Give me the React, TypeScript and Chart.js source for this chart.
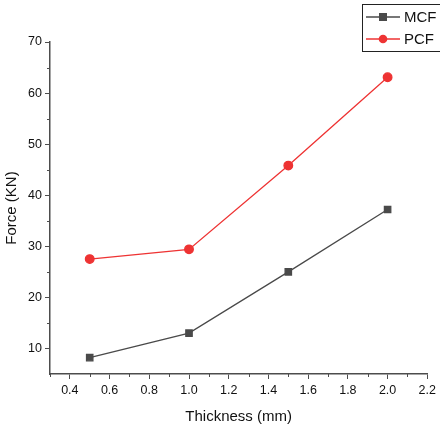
import React, { useEffect, useRef } from "react";
import { Chart, registerables } from "chart.js";

Chart.register(...registerables);

// Thickness (mm) against force (KN)
const thickness = [0.5, 1.0, 1.5, 2.0];
const mcfForce = [8.2, 13.0, 25.0, 37.2];
const pcfForce = [27.5, 29.4, 45.8, 63.1];
const xTickValues = [0.4, 0.6, 0.8, 1.0, 1.2, 1.4, 1.6, 1.8, 2.0, 2.2];
const yTickValues = [10, 20, 30, 40, 50, 60, 70];
const xMinorValues = [0.3, 0.5, 0.7, 0.9, 1.1, 1.3, 1.5, 1.7, 1.9, 2.1];
const yMinorValues = [15, 25, 35, 45, 55, 65];

const FONT = "'Liberation Sans', Arial, sans-serif";
const AXIS = "#4d4d4d";
const MCF_COLOR = "#4a4a4a";
const PCF_COLOR = "#ee3333";

const minorTicks = {
  id: "minorTicks",
  afterDraw(chart: any) {
    const ctx = chart.ctx;
    const x = chart.scales.x;
    const y = chart.scales.y;
    ctx.save();
    ctx.strokeStyle = AXIS;
    ctx.lineWidth = 1;
    xMinorValues.forEach((v) => {
      const px = Math.round(x.getPixelForValue(v)) + 0.5;
      ctx.beginPath();
      ctx.moveTo(px, y.bottom);
      ctx.lineTo(px, y.bottom + 3);
      ctx.stroke();
    });
    yMinorValues.forEach((v) => {
      const py = Math.round(y.getPixelForValue(v)) + 0.5;
      ctx.beginPath();
      ctx.moveTo(x.left, py);
      ctx.lineTo(x.left - 3, py);
      ctx.stroke();
    });
    ctx.restore();
  },
};

const boxedLegend = {
  id: "boxedLegend",
  afterDraw(chart: any) {
    const ctx = chart.ctx;
    const left = 362.5;
    const top = 4.5;
    const right = 445;
    const bottom = 51.5;
    ctx.save();
    ctx.fillStyle = "#ffffff";
    ctx.fillRect(left, top, right - left, bottom - top);
    ctx.strokeStyle = "#222222";
    ctx.lineWidth = 1;
    ctx.strokeRect(left, top, right - left, bottom - top);
    const rows = chart.data.datasets;
    rows.forEach((ds: any, i: number) => {
      const cy = 17 + i * 22;
      ctx.strokeStyle = ds.borderColor;
      ctx.lineWidth = 1.3;
      ctx.beginPath();
      ctx.moveTo(366, cy);
      ctx.lineTo(400, cy);
      ctx.stroke();
      ctx.fillStyle = ds.pointBackgroundColor;
      if (ds.pointStyle === "rect") {
        ctx.fillRect(379, cy - 4, 8, 8);
      } else {
        ctx.beginPath();
        ctx.arc(383, cy, 4.3, 0, Math.PI * 2);
        ctx.fill();
      }
      ctx.fillStyle = "#111111";
      ctx.font = `15px ${FONT}`;
      ctx.textBaseline = "middle";
      ctx.textAlign = "left";
      ctx.fillText(ds.label, 404, cy + 1);
    });
    ctx.restore();
  },
};

export default function App() {
  const canvasRef = useRef<HTMLCanvasElement | null>(null);

  useEffect(() => {
    const canvas = canvasRef.current;
    if (!canvas) return;
    const chart = new Chart(canvas, {
      type: "line",
      data: {
        datasets: [
          {
            label: "MCF",
            data: thickness.map((t, i) => ({ x: t, y: mcfForce[i] })),
            borderColor: MCF_COLOR,
            backgroundColor: MCF_COLOR,
            pointBackgroundColor: MCF_COLOR,
            pointBorderColor: MCF_COLOR,
            pointStyle: "rect",
            pointRadius: 4.5,
            borderWidth: 1.3,
          },
          {
            label: "PCF",
            data: thickness.map((t, i) => ({ x: t, y: pcfForce[i] })),
            borderColor: PCF_COLOR,
            backgroundColor: PCF_COLOR,
            pointBackgroundColor: PCF_COLOR,
            pointBorderColor: PCF_COLOR,
            pointStyle: "circle",
            pointRadius: 4.3,
            borderWidth: 1.3,
          },
        ],
      },
      options: {
        responsive: false,
        animation: false,
        layout: { padding: { top: 42, right: 8, left: 0, bottom: 0 } },
        plugins: {
          legend: { display: false },
          tooltip: { enabled: false },
        },
        scales: {
          x: {
            type: "linear",
            min: 0.3,
            max: 2.2,
            afterBuildTicks: (scale: any) => {
              scale.ticks = xTickValues.map((v) => ({ value: v }));
            },
            afterFit: (scale: any) => {
              scale.height = 52;
            },
            grid: {
              drawOnChartArea: false,
              drawTicks: true,
              tickLength: 5,
              tickColor: AXIS,
              tickWidth: 1,
            },
            border: { display: true, color: AXIS, width: 1.5 },
            ticks: {
              color: "#111111",
              font: { family: FONT, size: 12.5 },
              padding: 4,
              maxRotation: 0,
              callback: (v: any) => Number(v).toFixed(1),
            },
            title: {
              display: true,
              text: "Thickness (mm)",
              color: "#111111",
              font: { family: FONT, size: 15 },
              padding: { top: 2, bottom: 0 },
            },
          },
          y: {
            type: "linear",
            min: 5,
            max: 70,
            afterBuildTicks: (scale: any) => {
              scale.ticks = yTickValues.map((v) => ({ value: v }));
            },
            afterFit: (scale: any) => {
              scale.width = 50;
            },
            grid: {
              drawOnChartArea: false,
              drawTicks: true,
              tickLength: 5,
              tickColor: AXIS,
              tickWidth: 1,
            },
            border: { display: true, color: AXIS, width: 1.5 },
            ticks: {
              color: "#111111",
              font: { family: FONT, size: 12.5 },
              padding: 3,
            },
            title: {
              display: true,
              text: "Force (KN)",
              color: "#111111",
              font: { family: FONT, size: 15 },
              padding: { top: 3, bottom: 2 },
            },
          },
        },
      },
      plugins: [minorTicks, boxedLegend],
    });
    return () => chart.destroy();
  }, []);

  return (
    <div style={{ position: "fixed", left: 0, top: 0, width: 440, height: 426, background: "#fff" }}>
      <canvas ref={canvasRef} width={440} height={426} />
    </div>
  );
}
